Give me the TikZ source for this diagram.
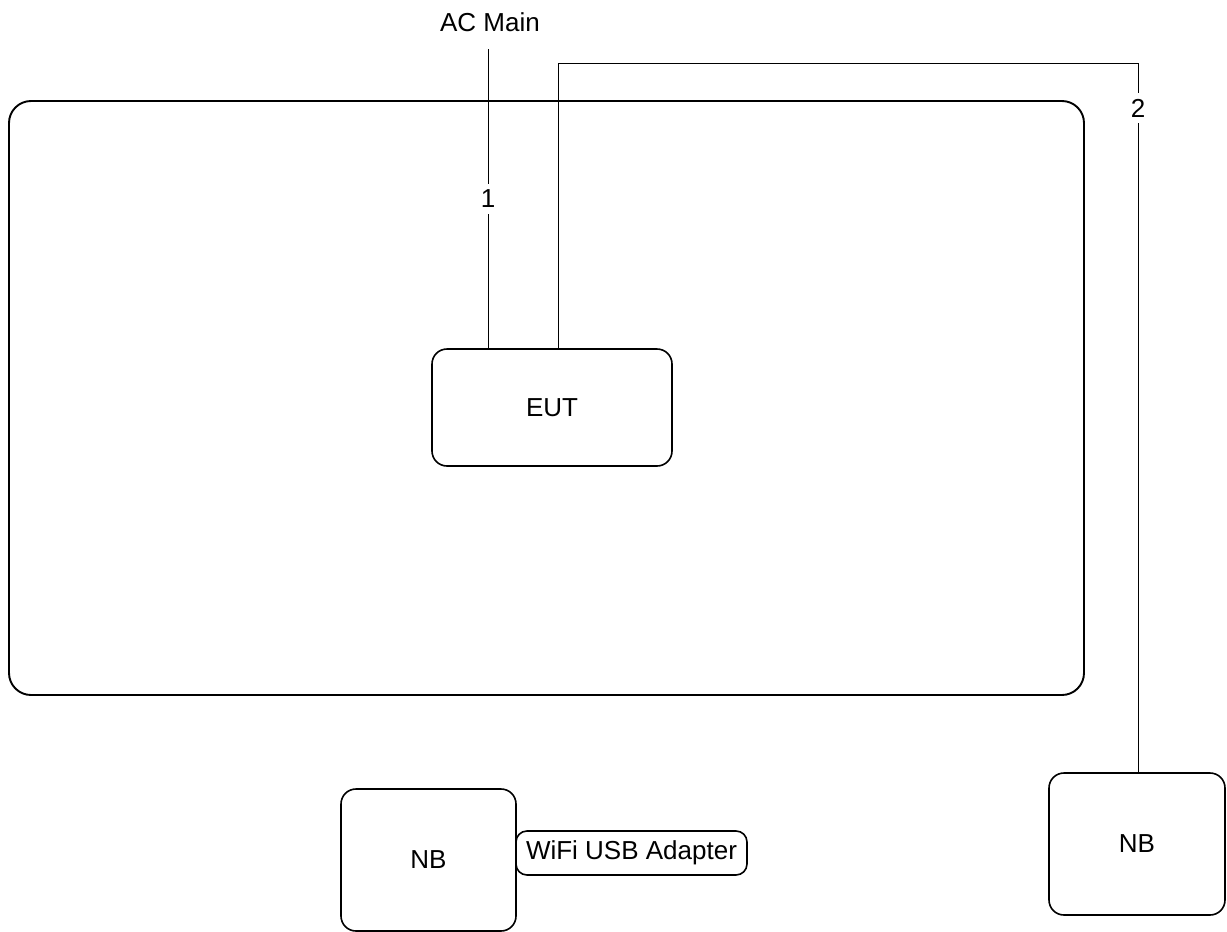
\documentclass[tikz,border=0pt]{standalone}
\usepackage{fontspec}
\setmainfont{Liberation Sans}
\usepackage{tikz}
\usetikzlibrary{positioning,calc}

\begin{document}
\begin{tikzpicture}[x=1pt,y=-1pt,
    every node/.style={font=\fontsize{26}{30}\selectfont},
    unit/.style={draw, line width=1.6pt, rounded corners=15pt, inner sep=0pt},
    cable/.style={line width=0.9pt},
    cablelabel/.style={fill=white, inner xsep=2pt, inner ysep=6pt}]
    \useasboundingbox (0,0) rectangle (1227,932);

    % Test room
    \node[unit, line width=1.9pt, rounded corners=22pt,
          minimum width=1075, minimum height=594] (room) at (546.5,398) {};

    % Devices
    \node[unit, minimum width=240, minimum height=117] (eut) at (552,407.5) {EUT};
    \node[unit, minimum width=175, minimum height=142] (nbl) at (428.5,860) {NB};
    \node[unit, rounded corners=11pt, minimum width=231, minimum height=44] (wifi) at (631.5,853) {WiFi USB Adapter};
    \node[unit, minimum width=176, minimum height=142] (nbr) at (1137,844) {NB};

    % Cable 1 (AC main)
    \node (acmain) at (490,22) {AC Main};
    \coordinate (ac) at (488,49);
    \draw[cable] (ac) -- (ac |- eut.north) node[cablelabel, pos=0.5] {1};

    % Cable 2 (EUT to NB)
    \coordinate (bendA) at (558,63);
    \coordinate (bendB) at (1138,63);
    \draw[cable] (bendA |- eut.north) -- (bendA) -- (bendB) -- (bendB |- nbr.north);
    \node[cablelabel] (two) at (1138,108) {2};
\end{tikzpicture}
\end{document}
